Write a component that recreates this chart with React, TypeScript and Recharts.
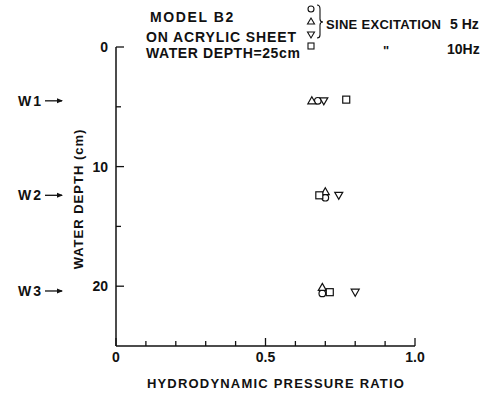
import React from 'react'
import { ScatterChart, Scatter, XAxis, YAxis } from 'recharts'

// sine 5Hz: circle / triangle, 10Hz: triangle-down / square
const circlePts = [
  { x: 0.675, y: 4.5 },
  { x: 0.7, y: 12.6 },
  { x: 0.69, y: 20.6 },
]
const trianglePts = [
  { x: 0.655, y: 4.5 },
  { x: 0.7, y: 12.1 },
  { x: 0.69, y: 20.1 },
]
const triDownPts = [
  { x: 0.695, y: 4.5 },
  { x: 0.745, y: 12.4 },
  { x: 0.8, y: 20.5 },
]
const squarePts = [
  { x: 0.77, y: 4.4 },
  { x: 0.68, y: 12.4 },
  { x: 0.715, y: 20.5 },
]

const ratioTicks = [0, 0.1, 0.2, 0.3, 0.4, 0.5, 0.6, 0.7, 0.8, 0.9, 1.0]
const ratioLabels: Record<string, string> = { '0': '0', '0.5': '0.5', '1': '1.0' }
const depthTicks = [0, 5, 10, 15, 20]
const depthLabels: Record<string, string> = { '0': '0', '10': '10', '20': '20' }

const gauges = ['W1', 'W2', 'W3']
const gaugeDepths = [4.5, 12.4, 20.4]

const ink = '#111'
const font = { fontFamily: '"Liberation Sans", Arial, sans-serif', fontWeight: 700, fontSize: 13, fill: ink }
const bigFont = { ...font, fontSize: 14 }

const sw = 1.2

const CircleShape = (p: any) => <circle cx={p.cx} cy={p.cy} r={3.3} fill="#fff" stroke={ink} strokeWidth={sw} />
const TriShape = (p: any) => (
  <path d={`M${p.cx},${p.cy - 4} L${p.cx + 4},${p.cy + 3} L${p.cx - 4},${p.cy + 3} Z`} fill="#fff" stroke={ink} strokeWidth={sw} />
)
const TriDownShape = (p: any) => (
  <path d={`M${p.cx - 4},${p.cy - 3} L${p.cx + 4},${p.cy - 3} L${p.cx},${p.cy + 4} Z`} fill="#fff" stroke={ink} strokeWidth={sw} />
)
const SquareShape = (p: any) => <rect x={p.cx - 3.5} y={p.cy - 3.5} width={7} height={7} fill="#fff" stroke={ink} strokeWidth={sw} />

const DepthTick = (props: any) => {
  const { x, y, payload } = props
  const label = depthLabels[String(payload.value)]
  return (
    <g>
      <line x1={x} x2={x + (label ? 8 : 5)} y1={y} y2={y} stroke={ink} strokeWidth={1.3} />
      {label && (
        <text x={x - 8} y={y + 5} textAnchor="end" style={bigFont}>
          {label}
        </text>
      )}
    </g>
  )
}

const RatioTick = (props: any) => {
  const { x, y, payload } = props
  const label = ratioLabels[String(payload.value)]
  return (
    <g>
      <line x1={x} x2={x} y1={y} y2={y - (label ? 8 : 5)} stroke={ink} strokeWidth={1.3} />
      {label && (
        <text x={x} y={y + 16} textAnchor="middle" style={bigFont}>
          {label}
        </text>
      )}
    </g>
  )
}

const Arrow = ({ y }: { y: number }) => (
  <g>
    <line x1={45} x2={62} y1={y} y2={y} stroke={ink} strokeWidth={1.3} />
    <path d={`M63,${y} L57,${y - 2.5} L57,${y + 2.5} Z`} fill={ink} />
  </g>
)

export default function App() {
  const depthToY = (d: number) => 47 + (d / 25) * 299
  return (
    <div style={{ position: 'absolute', left: 0, top: 0, width: 499, height: 396, background: '#fff' }}>
      <ScatterChart width={499} height={396} margin={{ top: 47, right: 84, bottom: 20, left: 86 }}>
        <XAxis
          type="number"
          dataKey="x"
          domain={[0, 1]}
          ticks={ratioTicks}
          interval={0}
          height={30}
          tickSize={0}
          tickMargin={0}
          tickLine={false}
          tick={<RatioTick />}
          axisLine={{ stroke: ink, strokeWidth: 1.5 }}
        />
        <YAxis
          type="number"
          dataKey="y"
          domain={[0, 25]}
          reversed
          ticks={depthTicks}
          interval={0}
          width={30}
          tickSize={0}
          tickMargin={0}
          tickLine={false}
          tick={<DepthTick />}
          axisLine={{ stroke: ink, strokeWidth: 1.5 }}
        />
        <Scatter data={circlePts} shape={CircleShape} isAnimationActive={false} />
        <Scatter data={trianglePts} shape={TriShape} isAnimationActive={false} />
        <Scatter data={triDownPts} shape={TriDownShape} isAnimationActive={false} />
        <Scatter data={squarePts} shape={SquareShape} isAnimationActive={false} />
      </ScatterChart>
      <svg width={499} height={396} style={{ position: 'absolute', left: 0, top: 0, pointerEvents: 'none' }}>
        <text x={150} y={22} style={bigFont} letterSpacing={1.6}>MODEL B2</text>
        <text x={146} y={42} style={bigFont} letterSpacing={0.9}>ON ACRYLIC SHEET</text>
        <text x={146} y={58} style={bigFont} letterSpacing={0.6}>WATER DEPTH=25cm</text>

        <circle cx={311} cy={9} r={3} fill="#fff" stroke={ink} strokeWidth={1.1} />
        <path d="M311,18 L314.5,24 L307.5,24 Z" fill="#fff" stroke={ink} strokeWidth={1.1} />
        <path d="M307.5,32 L314.5,32 L311,38 Z" fill="#fff" stroke={ink} strokeWidth={1.1} />
        <rect x={308} y={43} width={6} height={6} fill="#fff" stroke={ink} strokeWidth={1.1} />
        <path d="M317,5 Q320,5 320,9 L320,19 Q320,22 323,22 Q320,22 320,25 L320,35 Q320,38 317,38" fill="none" stroke={ink} strokeWidth={1.1} />
        <text x={326} y={29} style={font} letterSpacing={0.3}>SINE EXCITATION</text>
        <text x={450} y={29} style={bigFont}>5 Hz</text>
        <text x={383} y={55} style={font}>"</text>
        <text x={447} y={54} style={bigFont}>10Hz</text>

        {gauges.map((g, i) => (
          <g key={g}>
            <text x={18} y={depthToY(gaugeDepths[i]) + 5} style={bigFont} letterSpacing={2}>{g}</text>
            <Arrow y={depthToY(gaugeDepths[i])} />
          </g>
        ))}

        <text x={78} y={199} transform="rotate(-90 78 199)" textAnchor="middle" dominantBaseline="central" style={font} letterSpacing={1}>
          WATER DEPTH (cm)
        </text>
        <text x={276} y={388} textAnchor="middle" style={font} letterSpacing={1.2}>
          HYDRODYNAMIC PRESSURE RATIO
        </text>
      </svg>
    </div>
  )
}
